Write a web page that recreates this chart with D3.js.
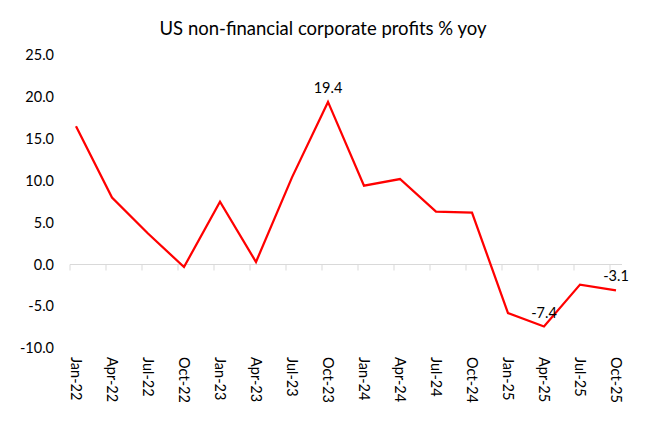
<!DOCTYPE html>
<html><head><meta charset="utf-8">
<script src="https://cdn.jsdelivr.net/npm/d3@7"></script>
<style>body{margin:0;background:#fff;}svg{display:block;font-family:Lato,"Open Sans",sans-serif;}</style>
</head><body>
<svg id="c" width="650" height="427"></svg>
<script>
const categories = ["Jan-22","Apr-22","Jul-22","Oct-22","Jan-23","Apr-23","Jul-23","Oct-23","Jan-24","Apr-24","Jul-24","Oct-24","Jan-25","Apr-25","Jul-25","Oct-25"];
const values = [16.5, 8.0, 3.7, -0.3, 7.5, 0.3, 10.4, 19.4, 9.4, 10.2, 6.3, 6.2, -5.8, -7.4, -2.4, -3.1];
const yTicks = [-10, -5, 0, 5, 10, 15, 20, 25];
const labelled = ["Oct-23", "Apr-25", "Oct-25"];
const title = "US non-financial corporate profits % yoy";

const svg = d3.select("#c");
// months on the date axis: each category is a quarter (3 months)
const nMonths = categories.length * 3 - 2;
const x = d3.scaleLinear().domain([0, nMonths]).range([70, 622]);
const y = d3.scaleLinear().domain([-10, 25]).range([348.3, 55]);
const px = i => x(i * 3 + 0.5);

svg.append("text").attr("x", 323).attr("y", 35).attr("text-anchor", "middle")
  .attr("font-size", 18.5).attr("fill", "#000").text(title);

// y tick labels
svg.append("g").selectAll("text").data(yTicks).join("text")
  .attr("x", 54).attr("y", d => y(d)).attr("dy", "0.35em")
  .attr("text-anchor", "end").attr("font-size", 14.5).attr("fill", "#000")
  .text(d => d.toFixed(1));

// zero axis line and ticks
svg.append("line").attr("x1", x(0)).attr("x2", x(nMonths))
  .attr("y1", y(0)).attr("y2", y(0)).attr("stroke", "#d9d9d9").attr("stroke-width", 1);
svg.append("g").selectAll("line").data(categories).join("line")
  .attr("x1", (d, i) => x(i * 3)).attr("x2", (d, i) => x(i * 3))
  .attr("y1", y(0)).attr("y2", y(0) + 6).attr("stroke", "#d9d9d9").attr("stroke-width", 1);

// x labels (rotated)
svg.append("g").selectAll("text").data(categories).join("text")
  .attr("transform", (d, i) => `translate(${px(i)},357) rotate(90)`)
  .attr("dy", "0.35em").attr("text-anchor", "start")
  .attr("font-size", 14.5).attr("fill", "#000").text(d => d);

// line
const line = d3.line().x((d, i) => px(i)).y(d => y(d));
svg.append("path").datum(values).attr("d", line)
  .attr("fill", "none").attr("stroke", "#ff0000").attr("stroke-width", 2.25)
  .attr("stroke-linejoin", "miter");

// data labels
svg.append("g").selectAll("text")
  .data(categories.map((c, i) => ({c, i, v: values[i]})).filter(d => labelled.includes(d.c)))
  .join("text")
  .attr("x", d => px(d.i)).attr("y", d => y(d.v) - 9)
  .attr("text-anchor", "middle").attr("font-size", 14.5).attr("fill", "#000")
  .text(d => d.v.toFixed(1));
</script>
</body></html>
